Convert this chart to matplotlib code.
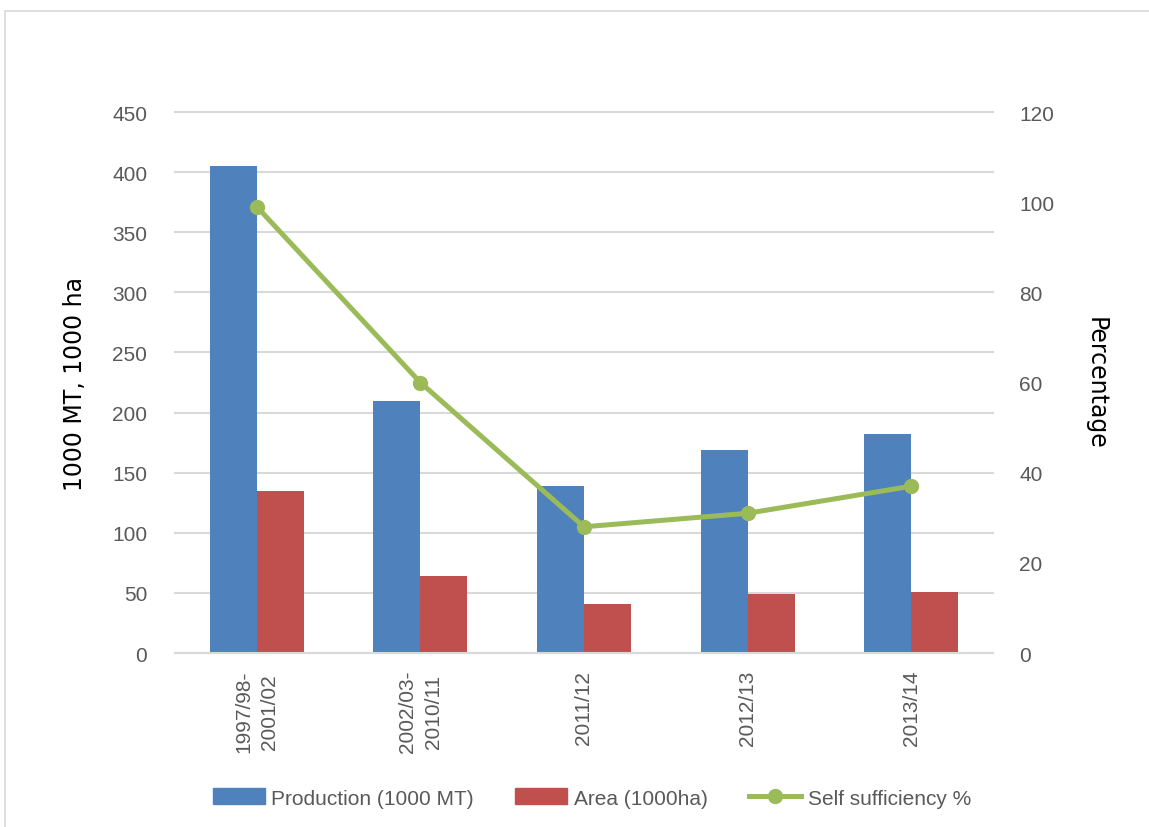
import numpy as np
import matplotlib.pyplot as plt
from matplotlib.patches import Rectangle
from matplotlib.lines import Line2D

# data
periods = ['1997/98-\n2001/02', '2002/03-\n2010/11', '2011/12', '2012/13', '2013/14']
production = [405, 210, 139, 169, 182]
area = [135, 64, 41, 49, 51]
self_suff = [99, 60, 28, 31, 37]

blue = '#4F81BD'
red = '#C0504D'
green = '#9BBB59'
grid = '#D9D9D9'
txt = '#595959'

plt.rcParams['font.family'] = ['Liberation Sans', 'DejaVu Sans']

fig = plt.figure(figsize=(11.49, 8.28), dpi=100)
ax = fig.add_axes([0.1523, 0.2101, 0.7119, 0.6534])

# outer frame of the chart area
fig.patches.append(Rectangle((5 / 1149, -0.1), 1.2, 1 - 12 / 828 + 0.1,
                             transform=fig.transFigure, fill=False,
                             edgecolor=grid, linewidth=1.2))

x = np.arange(len(periods))
w = 0.287
ax.bar(x - w / 2, production, w, color=blue, label='Production (1000 MT)', zorder=2)
ax.bar(x + w / 2, area, w, color=red, label='Area (1000ha)', zorder=2)

ax.set_xlim(-0.5, len(periods) - 0.5)
ax.set_ylim(0, 450)
ax.set_yticks(range(0, 451, 50))
ax.yaxis.grid(True, color=grid, linewidth=1.5, zorder=0)
for gl in ax.get_ygridlines():
    gl.set_clip_on(False)
ax.set_axisbelow(True)
for s in ['top', 'right', 'left']:
    ax.spines[s].set_visible(False)
ax.spines['bottom'].set_color(grid)
ax.spines['bottom'].set_linewidth(1.5)
ax.tick_params(length=0, labelsize=15, labelcolor=txt)
ax.tick_params(axis='y', pad=20)
ax.set_xticks(x)
ax.set_xticklabels(periods, rotation=90, va='top', ha='center', linespacing=1.45)
ax.tick_params(axis='x', pad=12)
ax.set_ylabel('1000 MT, 1000 ha', fontsize=17, family='DejaVu Sans', labelpad=18)

ax2 = ax.twinx()
ax2.plot(x, self_suff, color=green, linewidth=3.6, marker='o', markersize=10,
         label='Self sufficiency %', zorder=3)
ax2.set_ylim(0, 120)
ax2.set_yticks(range(0, 121, 20))
for s in ['top', 'right', 'left', 'bottom']:
    ax2.spines[s].set_visible(False)
ax2.tick_params(length=0, labelsize=15, labelcolor=txt, pad=19)
ax2.set_ylabel('Percentage', fontsize=17, family='DejaVu Sans', rotation=-90,
               labelpad=38)

handles = [Rectangle((0, 0), 1, 1, color=blue), Rectangle((0, 0), 1, 1, color=red),
           Line2D([], [], color=green, linewidth=3.6, marker='o', markersize=10)]
labels = ['Production (1000 MT)', 'Area (1000ha)', 'Self sufficiency %']
leg = fig.legend(handles, labels, loc='center', bbox_to_anchor=(0.515, 0.035), ncol=3,
                 frameon=False, fontsize=15, handlelength=2.5, handleheight=0.8,
                 handletextpad=0.3, columnspacing=2.0, labelcolor=txt)

fig.savefig('out.png', dpi=100)
